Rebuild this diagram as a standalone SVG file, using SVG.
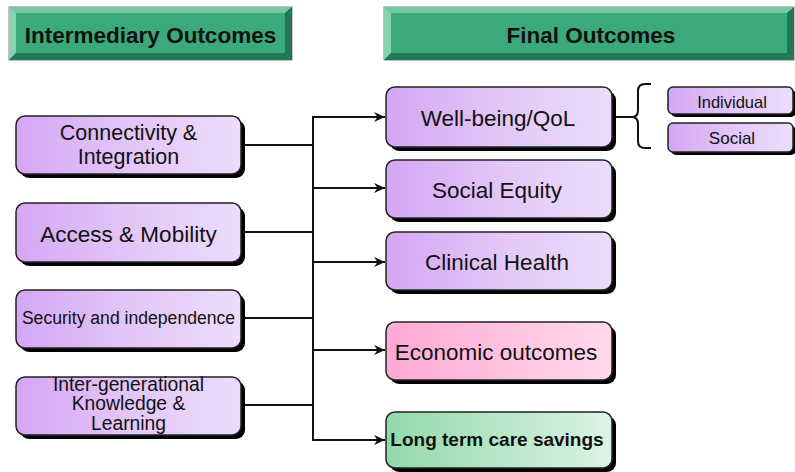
<svg xmlns="http://www.w3.org/2000/svg" width="795" height="472" viewBox="0 0 795 472">
<defs>
<style>
text{font-family:"Liberation Sans",Arial,sans-serif;fill:#111;text-anchor:middle}
.hd{font-weight:bold;font-size:22.5px}
.t{font-size:22.5px}
.box{stroke:#222;stroke-width:1.5}
.sh{fill:#000}
.pur{fill:url(#gPur)}
.pink{fill:url(#gPink)}
.grn{fill:url(#gGrn)}
.ln{fill:none;stroke:#111;stroke-width:2}
</style>
<linearGradient id="gPur" x1="0" y1="0" x2="1" y2="0"><stop offset="0" stop-color="#D5A6F4"/><stop offset="0.5" stop-color="#E2C6F8"/><stop offset="1" stop-color="#EDDCFB"/></linearGradient>
<linearGradient id="gPink" x1="0" y1="0" x2="1" y2="0"><stop offset="0" stop-color="#FFA9D4"/><stop offset="1" stop-color="#FFD9EC"/></linearGradient>
<linearGradient id="gGrn" x1="0" y1="0" x2="1" y2="0"><stop offset="0" stop-color="#92D9AB"/><stop offset="1" stop-color="#DDF3E5"/></linearGradient>
<marker id="arr" markerUnits="userSpaceOnUse" markerWidth="12" markerHeight="10" refX="11" refY="5" orient="auto"><path d="M0,0 L11,5 L0,10 L3.5,5 z" fill="#111"/></marker>
</defs>
<rect width="795" height="472" fill="#fff"/>

<g id="hdr-intermediary">
<rect x="9" y="7" width="283" height="53" fill="#3AA97B" stroke="#666" stroke-width="0.8"/>
<polygon points="9,7 292,7 285,13 16,13" fill="#74C9A1"/>
<polygon points="9,7 16,13 16,53 9,60" fill="#88D3AF"/>
<polygon points="9,60 16,53 285,53 292,60" fill="#1F7A52"/>
<polygon points="292,7 292,60 285,53 285,13" fill="#237554"/>
<text class="hd" x="150.5" y="43">Intermediary Outcomes</text>
</g>

<g id="hdr-final">
<rect x="384" y="7" width="410" height="53" fill="#3AA97B" stroke="#666" stroke-width="0.8"/>
<polygon points="384,7 794,7 787,13 391,13" fill="#74C9A1"/>
<polygon points="384,7 391,13 391,53 384,60" fill="#88D3AF"/>
<polygon points="384,60 391,53 787,53 794,60" fill="#1F7A52"/>
<polygon points="794,7 794,60 787,53 787,13" fill="#237554"/>
<text class="hd" x="591" y="43">Final Outcomes</text>
</g>

<g id="connectors">
<path class="ln" d="M241,145 H313 M241,232 H313 M241,318 H313 M241,405 H313 M313,116 V441"/>
<path class="ln" d="M312,117 H385" marker-end="url(#arr)"/>
<path class="ln" d="M312,188 H385" marker-end="url(#arr)"/>
<path class="ln" d="M312,262 H385" marker-end="url(#arr)"/>
<path class="ln" d="M312,350 H385" marker-end="url(#arr)"/>
<path class="ln" d="M312,440 H385" marker-end="url(#arr)"/>
<path class="ln" d="M616,117 H633"/>
<path class="ln" d="M651,84 H645 Q638,84 638,91 V110 Q638,117 632,117 Q638,117 638,124 V141 Q638,148 645,148 H651"/>
</g>

<g id="n-connectivity">
<rect class="sh" x="20" y="120" width="225" height="58" rx="9"/>
<rect class="box pur" x="16" y="116" width="225" height="58" rx="9"/>
<text x="128.5" y="139.5" style="font-size:21.5px">Connectivity &amp;</text>
<text x="128.5" y="163.5" style="font-size:21.5px">Integration</text>
</g>

<g id="n-access">
<rect class="sh" x="20" y="207" width="225" height="59" rx="9"/>
<rect class="box pur" x="16" y="203" width="225" height="59" rx="9"/>
<text class="t" x="128.5" y="242">Access &amp; Mobility</text>
</g>

<g id="n-security">
<rect class="sh" x="20" y="294" width="225" height="58" rx="9"/>
<rect class="box pur" x="16" y="290" width="225" height="58" rx="9"/>
<text x="128.5" y="324" style="font-size:17.6px">Security and independence</text>
</g>

<g id="n-intergen">
<rect class="sh" x="20" y="381" width="225" height="58" rx="9"/>
<rect class="box pur" x="16" y="377" width="225" height="58" rx="9"/>
<text x="128.5" y="391" style="font-size:19.3px">Inter-generational</text>
<text x="128.5" y="410" style="font-size:19.3px">Knowledge &amp;</text>
<text x="128.5" y="430" style="font-size:19.3px">Learning</text>
</g>

<g id="n-wellbeing">
<rect class="sh" x="390" y="91" width="226" height="60" rx="9"/>
<rect class="box pur" x="386" y="87" width="226" height="60" rx="9"/>
<text class="t" x="498" y="126">Well-being/QoL</text>
</g>

<g id="n-individual">
<rect class="sh" x="671" y="90" width="125" height="27" rx="5"/>
<rect class="box pur" x="668" y="87" width="125" height="27" rx="5"/>
<text x="732" y="108" style="font-size:16.5px">Individual</text>
</g>

<g id="n-social">
<rect class="sh" x="671" y="126" width="125" height="29" rx="5"/>
<rect class="box pur" x="668" y="123" width="125" height="29" rx="5"/>
<text x="732" y="144" style="font-size:17px">Social</text>
</g>

<g id="n-equity">
<rect class="sh" x="390" y="164" width="226" height="58" rx="9"/>
<rect class="box pur" x="386" y="160" width="226" height="58" rx="9"/>
<text class="t" x="497" y="198">Social Equity</text>
</g>

<g id="n-clinical">
<rect class="sh" x="390" y="236" width="226" height="58" rx="9"/>
<rect class="box pur" x="386" y="232" width="226" height="58" rx="9"/>
<text class="t" x="497" y="270">Clinical Health</text>
</g>

<g id="n-economic">
<rect class="sh" x="390" y="326" width="226" height="58" rx="9"/>
<rect class="box pink" x="386" y="322" width="226" height="58" rx="9"/>
<text class="t" x="496" y="360">Economic outcomes</text>
</g>

<g id="n-ltc">
<rect class="sh" x="390" y="416" width="226" height="56" rx="9"/>
<rect class="box grn" x="386" y="412" width="226" height="56" rx="9"/>
<text x="497" y="446" style="font-size:19px;font-weight:bold">Long term care savings</text>
</g>
</svg>
